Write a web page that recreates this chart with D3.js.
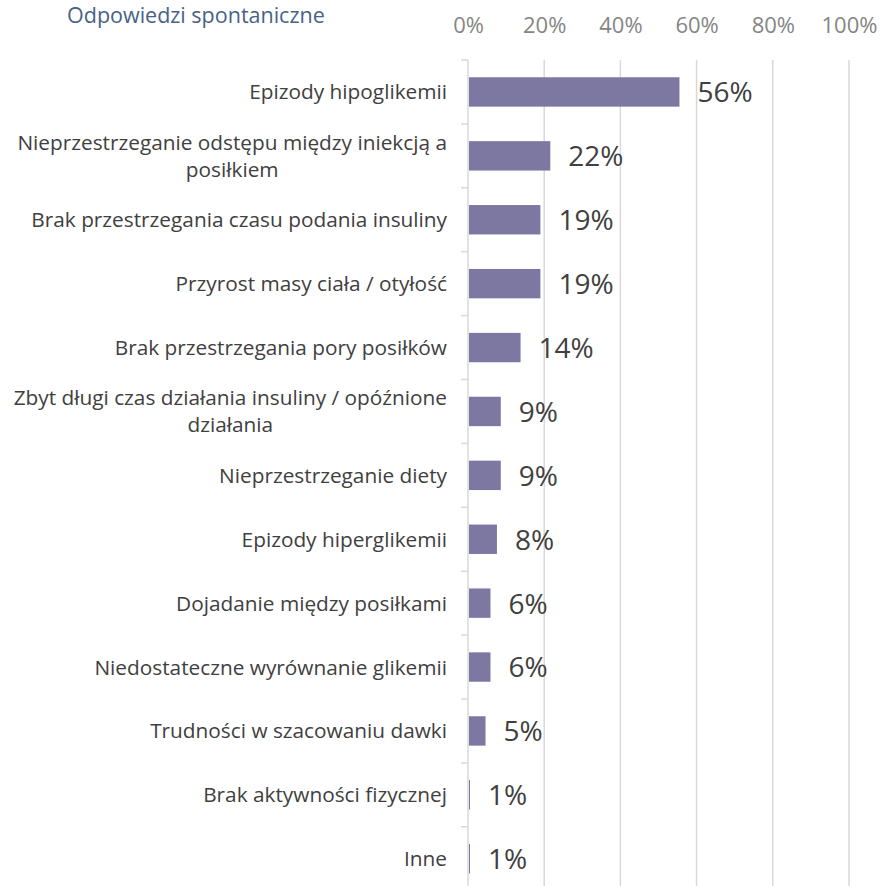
<!DOCTYPE html>
<html>
<head>
<meta charset="utf-8">
<script src="https://cdn.jsdelivr.net/npm/d3@7"></script>
<style>
  body { margin: 0; background: #fff; }
  svg text { font-family: "Open Sans", sans-serif; }
</style>
</head>
<body>
<div id="chart"></div>
<script>
// data (percent of respondents)
var categories = [
  "Epizody hipoglikemii",
  "Nieprzestrzeganie odstępu między iniekcją a posiłkiem",
  "Brak przestrzegania czasu podania insuliny",
  "Przyrost masy ciała / otyłość",
  "Brak przestrzegania pory posiłków",
  "Zbyt długi czas działania insuliny / opóźnione działania",
  "Nieprzestrzeganie diety",
  "Epizody hiperglikemii",
  "Dojadanie między posiłkami",
  "Niedostateczne wyrównanie glikemii",
  "Trudności w szacowaniu dawki",
  "Brak aktywności fizycznej",
  "Inne"
];
var values = [55.5, 21.6, 19.0, 19.0, 13.8, 8.6, 8.6, 7.6, 5.9, 5.9, 4.6, 0.5, 0.5];
var xTicks = [0, 20, 40, 60, 80, 100];
var title = "Odpowiedzi spontaniczne";

var svgWidth = 883;
var svgHeight = 886;

var margin = { top: 60, left: 468 };
var width = 381;
var height = 13 * 63.9;

var svg = d3.select("#chart")
  .append("svg")
  .attr("width", svgWidth)
  .attr("height", svgHeight);

var chartGroup = svg.append("g")
  .attr("transform", `translate(${margin.left}, ${margin.top})`);

var xScale = d3.scaleLinear()
  .domain([0, 100])
  .range([0, width]);

var yScale = d3.scaleBand()
  .domain(categories)
  .range([0, height])
  .paddingInner(0.54)
  .paddingOuter(0.27);

// gridlines
chartGroup.selectAll(".grid")
  .data(xTicks)
  .enter()
  .append("line")
  .attr("x1", d => xScale(d))
  .attr("x2", d => xScale(d))
  .attr("y1", 0)
  .attr("y2", height)
  .attr("stroke", "#d9d9d9")
  .attr("stroke-width", 1.5);

// small category ticks on the left of the axis
var step = yScale.step();
chartGroup.selectAll(".cattick")
  .data(d3.range(categories.length + 1))
  .enter()
  .append("line")
  .attr("x1", -7)
  .attr("x2", 0)
  .attr("y1", i => i * step)
  .attr("y2", i => i * step)
  .attr("stroke", "#d9d9d9")
  .attr("stroke-width", 1.5);

// top axis labels
var topAxis = d3.axisTop(xScale)
  .tickValues(xTicks)
  .tickSize(0)
  .tickPadding(27)
  .tickFormat(d => d + "%");

var xAxisG = chartGroup.append("g").call(topAxis);
xAxisG.select(".domain").remove();
xAxisG.selectAll("text")
  .attr("font-family", "Open Sans")
  .attr("font-size", "22px")
  .attr("fill", "#858585");

// bars
chartGroup.selectAll("rect")
  .data(values)
  .enter()
  .append("rect")
  .attr("x", 1)
  .attr("y", (d, i) => yScale(categories[i]))
  .attr("width", d => Math.max(xScale(d) - 1, 1))
  .attr("height", yScale.bandwidth())
  .attr("fill", "#7d78a1");

// value labels
chartGroup.selectAll(".vlabel")
  .data(values)
  .enter()
  .append("text")
  .attr("x", d => xScale(d) + 18)
  .attr("y", (d, i) => yScale(categories[i]) + yScale.bandwidth() / 2)
  .attr("dy", "0.37em")
  .attr("font-size", "28px")
  .attr("fill", "#404040")
  .text(d => Math.round(d) + "%");

// category labels, wrapped and centred as a block
var maxLabelWidth = 452;
var lineHeight = 27;
var labelGroup = chartGroup.append("g");

categories.forEach(function(cat, i) {
  var cy = yScale(cat) + yScale.bandwidth() / 2;
  var t = labelGroup.append("text")
    .attr("font-size", "20.8px")
    .attr("fill", "#404040")
    .attr("text-anchor", "middle");

  // greedy wrap
  var words = cat.split(" ");
  var lines = [];
  var line = [];
  var probe = t.append("tspan");
  words.forEach(function(w) {
    line.push(w);
    probe.text(line.join(" "));
    if (probe.node().getComputedTextLength() > maxLabelWidth && line.length > 1) {
      line.pop();
      lines.push(line.join(" "));
      line = [w];
    }
  });
  lines.push(line.join(" "));
  probe.remove();

  var widths = lines.map(function(l) {
    var s = t.append("tspan").text(l);
    var w = s.node().getComputedTextLength();
    s.remove();
    return w;
  });
  var blockW = d3.max(widths);
  var cx = -21 - blockW / 2;
  var firstY = cy + 7.5 - (lines.length - 1) * lineHeight / 2;

  lines.forEach(function(l, k) {
    t.append("tspan")
      .attr("x", cx)
      .attr("y", firstY + k * lineHeight)
      .text(l);
  });
});

// title
svg.append("text")
  .attr("x", 67)
  .attr("y", 23)
  .attr("font-size", "21.5px")
  .attr("fill", "#476286")
  .text(title);
</script>
</body>
</html>
